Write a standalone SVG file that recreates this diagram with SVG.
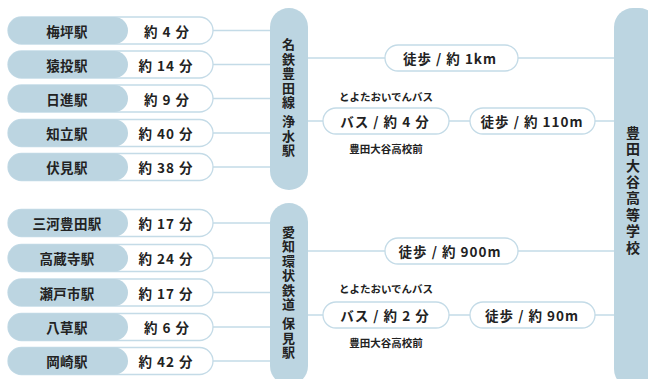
<svg xmlns="http://www.w3.org/2000/svg" width="648" height="379" viewBox="0 0 648 379">
<style>
text{font-family:"Noto Sans CJK JP","Noto Sans",sans-serif;font-weight:700;fill:#222;text-anchor:middle;dominant-baseline:central}
.t{font-size:13.5px;letter-spacing:0.3px}
.p{font-size:13.5px;letter-spacing:1px}
.s{font-size:10.5px}
.v{font-size:13px;writing-mode:vertical-rl;letter-spacing:1.5px}
.w{font-size:14px;writing-mode:vertical-rl;letter-spacing:2.4px}
.pill{fill:#fff;stroke:#c4dbe7;stroke-width:1.3}
.blue{fill:#bcd5e1}
.ln{stroke:#c4dbe7;stroke-width:1.3;fill:none}
</style>
<g id="connectors">
<path class="ln" d="M213 30.5H270M213 64.5H270M213 98.5H270M213 133H270M213 167H270"/>
<path class="ln" d="M213 223H270M213 258H270M213 292.5H270M213 327H270M213 361H270"/>
<path class="ln" d="M308 58H385M518 58H614M308 121H323M449 121H470M595 121H614"/>
<path class="ln" d="M308 251H385M518 251H614M308 315H323M449 315H470M595 315H614"/>
</g>
<g id="umetsubo"><rect class="pill" x="8" y="17" width="205" height="27" rx="13.5"/><rect class="blue" x="8" y="17" width="120" height="27" rx="13.5"/><text class="t" x="67" y="30.5">梅坪駅</text><text class="p" x="167" y="30.5">約 4 分</text></g>
<g id="sanage"><rect class="pill" x="8" y="51" width="205" height="27" rx="13.5"/><rect class="blue" x="8" y="51" width="120" height="27" rx="13.5"/><text class="t" x="67" y="64.5">猿投駅</text><text class="p" x="166" y="64.5">約 14 分</text></g>
<g id="nisshin"><rect class="pill" x="8" y="85" width="205" height="27" rx="13.5"/><rect class="blue" x="8" y="85" width="120" height="27" rx="13.5"/><text class="t" x="67" y="98.5">日進駅</text><text class="p" x="167" y="98.5">約 9 分</text></g>
<g id="chiryu"><rect class="pill" x="8" y="119.5" width="205" height="27" rx="13.5"/><rect class="blue" x="8" y="119.5" width="120" height="27" rx="13.5"/><text class="t" x="67" y="133">知立駅</text><text class="p" x="166" y="133">約 40 分</text></g>
<g id="fushimi"><rect class="pill" x="8" y="153.5" width="205" height="27" rx="13.5"/><rect class="blue" x="8" y="153.5" width="120" height="27" rx="13.5"/><text class="t" x="67" y="167">伏見駅</text><text class="p" x="166" y="167">約 38 分</text></g>
<g id="mikawatoyota"><rect class="pill" x="8" y="209.5" width="205" height="27" rx="13.5"/><rect class="blue" x="8" y="209.5" width="120" height="27" rx="13.5"/><text class="t" x="67" y="223">三河豊田駅</text><text class="p" x="166" y="223">約 17 分</text></g>
<g id="kozoji"><rect class="pill" x="8" y="244.5" width="205" height="27" rx="13.5"/><rect class="blue" x="8" y="244.5" width="120" height="27" rx="13.5"/><text class="t" x="67" y="258">高蔵寺駅</text><text class="p" x="166" y="258">約 24 分</text></g>
<g id="setoshi"><rect class="pill" x="8" y="279" width="205" height="27" rx="13.5"/><rect class="blue" x="8" y="279" width="120" height="27" rx="13.5"/><text class="t" x="67" y="292.5">瀬戸市駅</text><text class="p" x="166" y="292.5">約 17 分</text></g>
<g id="yakusa"><rect class="pill" x="8" y="313.5" width="205" height="27" rx="13.5"/><rect class="blue" x="8" y="313.5" width="120" height="27" rx="13.5"/><text class="t" x="67" y="327">八草駅</text><text class="p" x="167" y="327">約 6 分</text></g>
<g id="okazaki"><rect class="pill" x="8" y="347.5" width="205" height="27" rx="13.5"/><rect class="blue" x="8" y="347.5" width="120" height="27" rx="13.5"/><text class="t" x="67" y="361">岡崎駅</text><text class="p" x="166" y="361">約 42 分</text></g>
<g id="josui"><rect class="blue" x="270" y="8" width="38" height="182" rx="19"/>
<text class="v" x="288.5" y="98">名鉄豊田線 浄水駅</text></g>
<g id="homi"><rect class="blue" x="270" y="203" width="38" height="182" rx="19"/>
<text class="v" x="288.5" y="293">愛知環状鉄道 保見駅</text></g>
<g id="school"><rect class="blue" x="614" y="8" width="44" height="380" rx="19"/>
<text class="w" x="633" y="191">豊田大谷高等学校</text></g>
<g id="walk1"><rect class="pill" x="385" y="45" width="133" height="26" rx="13"/><text class="p" x="450" y="58">徒歩 / 約 1km</text></g>
<g id="bus1"><text class="s" x="386" y="96">とよたおいでんバス</text><rect class="pill" x="323" y="108" width="126" height="26" rx="13"/><text class="p" x="385" y="121">バス / 約 4 分</text><text class="s" x="386" y="148">豊田大谷高校前</text></g>
<g id="walk2"><rect class="pill" x="470" y="108" width="125" height="26" rx="13"/><text class="p" x="532" y="121">徒歩 / 約 110m</text></g>
<g id="walk3"><rect class="pill" x="385" y="238" width="133" height="26" rx="13"/><text class="p" x="450" y="251">徒歩 / 約 900m</text></g>
<g id="bus2"><text class="s" x="386" y="288">とよたおいでんバス</text><rect class="pill" x="323" y="302" width="126" height="26" rx="13"/><text class="p" x="385" y="315">バス / 約 2 分</text><text class="s" x="386" y="342">豊田大谷高校前</text></g>
<g id="walk4"><rect class="pill" x="470" y="302" width="125" height="26" rx="13"/><text class="p" x="532" y="315">徒歩 / 約 90m</text></g>
</svg>
